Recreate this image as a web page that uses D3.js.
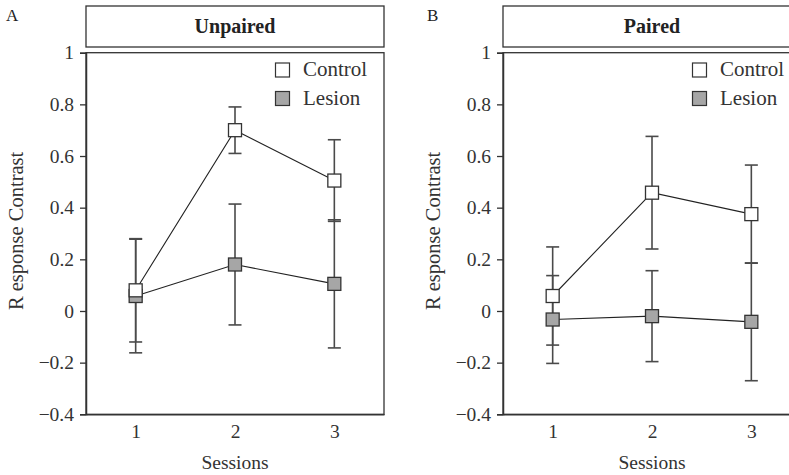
<!DOCTYPE html>
<html>
<head>
<meta charset="utf-8">
<script src="https://cdn.jsdelivr.net/npm/d3@7"></script>
<style>
  body { margin: 0; background: #fff; }
  svg { display: block; font-family: "Liberation Serif", "DejaVu Serif", serif; }
</style>
</head>
<body>
<div id="chart"></div>
<script>
// sessions and tick labels
var sessions = [1, 2, 3]
var yTicks = [-0.4, -0.2, 0, 0.2, 0.4, 0.6, 0.8, 1]

// panel A - unpaired
var unpairedControl = [0.08, 0.70, 0.505]
var unpairedControlErr = [0.20, 0.09, 0.158]
var unpairedLesion = [0.058, 0.18, 0.105]
var unpairedLesionErr = [0.22, 0.234, 0.248]

// panel B - paired
var pairedControl = [0.058, 0.458, 0.375]
var pairedControlErr = [0.19, 0.218, 0.19]
var pairedLesion = [-0.033, -0.02, -0.042]
var pairedLesionErr = [0.17, 0.176, 0.228]

var W = 789, H = 475
var svg = d3.select("#chart").append("svg")
    .attr("width", W)
    .attr("height", H)

var drawPanel = function(opt){
    var left = opt.left, width = 298, top = 52.7, bottom = 414.3

    var x = d3.scaleLinear().domain([0.5, 3.5]).range([left, left + width])
    var y = d3.scaleLinear().domain([-0.4, 1]).range([bottom, top])

    var g = svg.append("g")

    // panel letter
    g.append("text")
        .attr("x", opt.letterX)
        .attr("y", 21)
        .attr("font-size", 17)
        .attr("fill", "#222")
        .text(opt.letter)

    // header box
    g.append("rect")
        .attr("x", left)
        .attr("y", 6)
        .attr("width", width)
        .attr("height", 41)
        .attr("fill", "none")
        .attr("stroke", "#333")
        .attr("stroke-width", 1.3)
    g.append("text")
        .attr("x", left + width / 2)
        .attr("y", 33)
        .attr("text-anchor", "middle")
        .attr("font-weight", "bold")
        .attr("font-size", 20)
        .attr("fill", "#222")
        .text(opt.title)

    // plot frame
    g.append("rect")
        .attr("x", left)
        .attr("y", top)
        .attr("width", width)
        .attr("height", bottom - top)
        .attr("fill", "none")
        .attr("stroke", "#333")
        .attr("stroke-width", 1.3)

    // y axis
    var yAxis = d3.axisLeft(y)
        .tickValues(yTicks)
        .tickSize(6)
        .tickPadding(6)
        .tickFormat(function(d){ return d < 0 ? "\u2212" + Math.abs(d) : d })
    var ya = g.append("g")
        .attr("transform", "translate(" + left + ",0)")
        .call(yAxis)
    ya.select(".domain").attr("stroke", "#333").attr("stroke-width", 1.5)
    ya.selectAll(".tick line").attr("stroke", "#333").attr("stroke-width", 1.3)
    ya.selectAll(".tick text")
        .attr("font-family", "Liberation Serif, serif")
        .attr("font-size", 19.5)
        .attr("fill", "#333")

    // x axis (labels only)
    var xAxis = d3.axisBottom(x)
        .tickValues(sessions)
        .tickSize(0)
        .tickPadding(10)
        .tickFormat(d3.format("d"))
    var xa = g.append("g")
        .attr("transform", "translate(0," + bottom + ")")
        .call(xAxis)
    xa.select(".domain").attr("stroke", "#333").attr("stroke-width", 1.5)
    xa.selectAll(".tick text")
        .attr("font-family", "Liberation Serif, serif")
        .attr("font-size", 19.5)
        .attr("fill", "#333")

    // axis titles
    g.append("text")
        .attr("x", left + width / 2)
        .attr("y", 469)
        .attr("text-anchor", "middle")
        .attr("font-size", 19.5)
        .attr("fill", "#333")
        .text("Sessions")
    g.append("text")
        .attr("transform", "translate(" + (left - 63) + "," + (y(0.31)) + ") rotate(-90)")
        .attr("text-anchor", "middle")
        .attr("font-size", 20.5)
        .attr("fill", "#333")
        .text("R esponse Contrast")

    var series = [
        {vals: opt.lesion, errs: opt.lesionErr, fill: "#a6a6a6"},
        {vals: opt.control, errs: opt.controlErr, fill: "#ffffff"}
    ]

    var line = d3.line()
        .x(function(d, i){ return x(sessions[i]) })
        .y(function(d){ return y(d) })

    series.forEach(function(s){
        // error bars
        s.vals.forEach(function(v, i){
            var cx = x(sessions[i])
            var e = s.errs[i]
            g.append("line")
                .attr("x1", cx).attr("x2", cx)
                .attr("y1", y(v + e)).attr("y2", y(v - e))
                .attr("stroke", "#4a4a4a").attr("stroke-width", 1.6)
            ;[v + e, v - e].forEach(function(c){
                g.append("line")
                    .attr("x1", cx - 6.5).attr("x2", cx + 6.5)
                    .attr("y1", y(c)).attr("y2", y(c))
                    .attr("stroke", "#4a4a4a").attr("stroke-width", 1.6)
            })
        })
    })

    series.forEach(function(s){
        g.append("path")
            .datum(s.vals)
            .attr("d", line)
            .attr("fill", "none")
            .attr("stroke", "#222")
            .attr("stroke-width", 1.1)
        s.vals.forEach(function(v, i){
            g.append("rect")
                .attr("x", x(sessions[i]) - 6.5)
                .attr("y", y(v) - 6.5)
                .attr("width", 13)
                .attr("height", 13)
                .attr("fill", s.fill)
                .attr("stroke", "#333")
                .attr("stroke-width", 1.3)
        })
    })

    // legend
    var legend = [{name: "Control", fill: "#ffffff"}, {name: "Lesion", fill: "#a6a6a6"}]
    legend.forEach(function(d, i){
        var ly = 70 + i * 28.5
        g.append("rect")
            .attr("x", left + width - 101.5 - 7)
            .attr("y", ly - 7)
            .attr("width", 14)
            .attr("height", 14)
            .attr("fill", d.fill)
            .attr("stroke", "#333")
            .attr("stroke-width", 1.2)
        g.append("text")
            .attr("x", left + width - 81)
            .attr("y", ly + 6)
            .attr("font-size", 21)
            .attr("fill", "#333")
            .text(d.name)
    })
}

drawPanel({left: 86, letter: "A", letterX: 6, title: "Unpaired",
    control: unpairedControl, controlErr: unpairedControlErr,
    lesion: unpairedLesion, lesionErr: unpairedLesionErr})
drawPanel({left: 503, letter: "B", letterX: 427, title: "Paired",
    control: pairedControl, controlErr: pairedControlErr,
    lesion: pairedLesion, lesionErr: pairedLesionErr})
</script>
</body>
</html>
